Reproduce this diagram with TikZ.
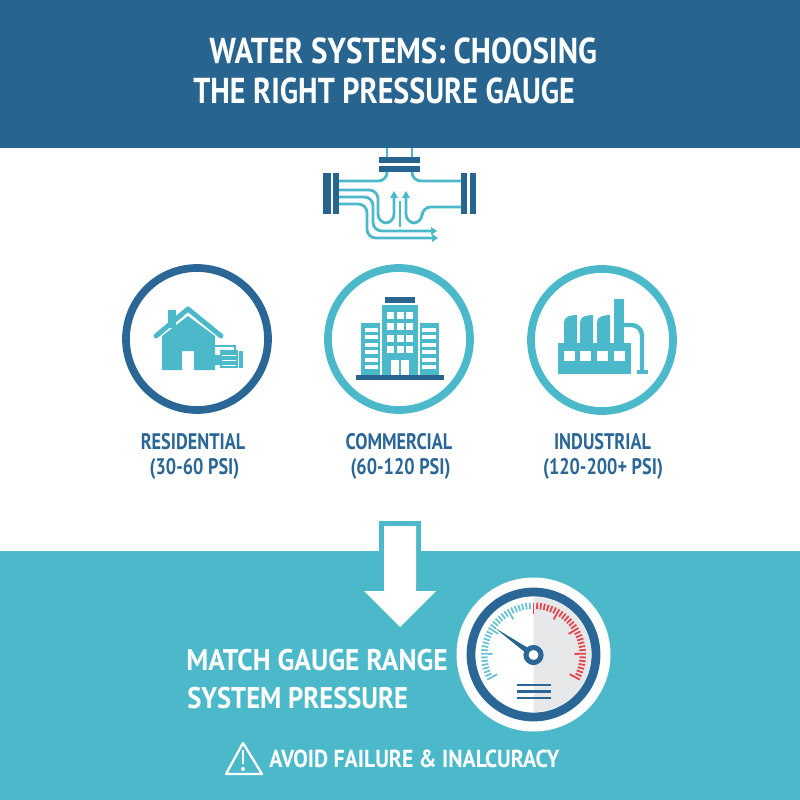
\documentclass[tikz,border=0pt]{standalone}
\usepackage{fontspec}
\setmainfont{PT Sans}
\definecolor{headblue}{HTML}{27648F}
\definecolor{tealband}{HTML}{4BB9C9}
\definecolor{ringblue}{HTML}{2B6796}
\definecolor{facegray}{HTML}{E7E8EA}
\definecolor{gaugered}{HTML}{E5474F}
\definecolor{gaugeteal}{HTML}{6CC4D6}
\tikzset{
  titletext/.style={white,anchor=base west,inner sep=0pt,xscale=.85,transform shape,font=\bfseries\fontsize{20.5}{24}\selectfont},
  matchtext/.style={white,anchor=base west,inner sep=0pt,xscale=.89,transform shape,font=\bfseries\fontsize{17}{20}\selectfont},
  avoidtext/.style={white,anchor=base west,inner sep=0pt,xscale=.885,transform shape,font=\bfseries\fontsize{14}{17}\selectfont},
  labeltext/.style={ringblue,anchor=base,inner sep=0pt,xscale=.81,transform shape,font=\bfseries\fontsize{12.8}{15}\selectfont},
  pipeline/.style={tealband,line width=1.6pt,rounded corners=5pt},
  pipetip/.style={tealband,line width=1.6pt},
  ring/.style={line width=4.4pt},
}
\begin{document}
\begin{tikzpicture}[x=0.02cm,y=-0.02cm]
\useasboundingbox (0,0) rectangle (800,800);
\fill[headblue] (0,0) rectangle (800,148);
\fill[tealband] (0,551) rectangle (800,800);
\node[titletext,xscale=1.012] (title1) at (209,64) {WATER SYSTEMS: CHOOSING};
\node[titletext,xscale=.982] (title2) at (193,104) {THE RIGHT PRESSURE GAUGE};
% pipe
\draw[pipetip] (387,148)--(387,157);
\draw[pipetip] (412,148)--(412,157);
\fill[headblue] (379,157) rectangle (420,163);
\fill[headblue] (379,166) rectangle (420,172);
\fill[headblue] (323,173) rectangle (331,214);
\fill[headblue] (333,173) rectangle (339,214);
\fill[headblue] (461,173) rectangle (467,214);
\fill[headblue] (470,173) rectangle (476,214);
\draw[pipeline] (387,172)--(387,181)--(339,181);
\draw[pipeline] (412,172)--(412,181)--(461,181);
\draw[pipeline] (339,190)--(378,190)--(378,223)--(394,223)--(394,196);
\draw[pipeline] (339,197)--(373,197)--(373,231)--(432,231);
\draw[pipeline] (339,204)--(367,204)--(367,238)--(432,238);
\draw[pipeline] (461,207)--(422,207)--(422,223)--(406,223)--(406,196);
\draw[pipetip] (400,201)--(400,227);
\fill[tealband] (394,191)--(390,198)--(398,198)--cycle;
\fill[tealband] (406,191)--(402,198)--(410,198)--cycle;
\fill[tealband] (437,231)--(431,227)--(431,235)--cycle;
\fill[tealband] (438,238)--(432,234)--(432,242)--cycle;
% circles
\draw[ring,ringblue,fill=white] (197,339) circle (71);
\draw[ring,tealband,fill=white] (399,339) circle (71);
\draw[ring,tealband,fill=white] (602,340) circle (71);
% house
\fill[tealband] (168,310) rectangle (176,328);
\draw[tealband,line width=2.8pt,line cap=round,line join=round] (156,336)--(188,309)--(221,336);
\fill[tealband] (162,336)--(188,316)--(215,336)--(215,370)--(194,370)--(194,351)--(182,351)--(182,370)--(162,370)--cycle;
\fill[tealband] (215,355) rectangle (220,365);
\fill[tealband] (220,350) rectangle (238,368);
\fill[tealband] (239,351) rectangle (243,368);
\draw[tealband,line width=0.9pt] (215,346)--(235,346)--(235,350);
\draw[white,line width=0.5pt] (222,355)--(236,355);
\draw[white,line width=0.5pt] (222,360)--(236,360);
\draw[white,line width=0.5pt] (222,365)--(236,365);
% building
\fill[headblue] (385,297) rectangle (415,303);
\fill[tealband] (382,305) rectangle (418,375);
\fill[tealband] (361,323) rectangle (380,375);
\fill[tealband] (420,323) rectangle (439,375);
\fill[headblue] (356,375) rectangle (444,380);
\foreach \wy in {312,323,335,346}
  \foreach \wx in {387,397,406}
    \fill[white] (\wx,\wy) rectangle (\wx+7,\wy+7);
\foreach \wy in {328,335,343,350,358,365} {
  \fill[white] (365,\wy) rectangle (378,\wy+4);
  \fill[white] (422,\wy) rectangle (436,\wy+4);
}
\fill[white] (391,360) rectangle (399,375);
\fill[white] (401,360) rectangle (409,375);
% factory
\fill[tealband] (558,343) rectangle (631,374);
\foreach \sx in {564,580,597}
  \fill[tealband] (\sx,343)--(\sx,322) .. controls (\sx,317) and (\sx+6,315) .. (\sx+13,315)--(\sx+13,343)--cycle;
\fill[tealband] (614,299) rectangle (624,343);
\foreach \wx in {564,580,597,614}
  \fill[white] (\wx,351) rectangle (\wx+11,361);
\draw[tealband,line width=2.5pt,rounded corners=6pt] (624,325)--(642,325)--(642,371);
\fill[tealband] (637,370) rectangle (648,374);
\node[labeltext] (residential) at (193,449) {RESIDENTIAL};
\node[labeltext] (residentialpsi) at (194.5,474) {(30-60 PSI)};
\node[labeltext] (commercial) at (399,449) {COMMERCIAL};
\node[labeltext] (commercialpsi) at (400.5,474) {(60-120 PSI)};
\node[labeltext] (industrial) at (602.5,449) {INDUSTRIAL};
\node[labeltext] (industrialpsi) at (603,474) {(120-200+ PSI)};
% arrow
\fill[tealband] (379,521) rectangle (421,551);
\fill[white] (384,526)--(416,526)--(416,591)--(436,591)--(400,627)--(364,591)--(384,591)--cycle;
\node[matchtext,xscale=1.035] (match) at (186,670) {MATCH GAUGE RANGE};
\node[matchtext] (system) at (187,708) {SYSTEM PRESSURE};
% gauge
\fill[white] (533.5,654.5) circle (77);
\draw[line width=5pt,ringblue,fill=white] (533.5,654.5) circle (62.5);
\fill[facegray] (533.5,597) arc[start angle=-90,end angle=90,radius=57.5]--cycle;
\foreach \i in {0,...,56} {
  \pgfmathsetmacro{\ang}{208-\i*236/56}
  \pgfmathtruncatemacro{\major}{mod(\i,7)==0}
  \pgfmathsetmacro{\rin}{\major==1 ? 41 : 46}
  \ifnum\i<28 \def\tickcol{gaugeteal}\else \def\tickcol{gaugered}\fi
  \draw[\tickcol,line width=1.05pt] ({533.5+\rin*cos(\ang)},{655-\rin*sin(\ang)})--({533.5+52.5*cos(\ang)},{655-52.5*sin(\ang)});
}
\fill[headblue] (495,628)--(535.5,652.5)--(531.5,657.5)--cycle;
\draw[ringblue,line width=2.9pt,fill=white] (533.5,655) circle (7.5);
\foreach \ly in {685,691.5,698}
  \draw[ringblue,line width=1.4pt] (517,\ly)--(551,\ly);
% warning
\draw[white,line width=1.3pt,line join=round] (243,743)--(262,774)--(226,774)--cycle;
\draw[white,line width=1.5pt] (243,750)--(243,764);
\fill[white] (243,769) circle (2);
\node[avoidtext] (avoid) at (269,767) {AVOID FAILURE \& INALCURACY};
\end{tikzpicture}
\end{document}
